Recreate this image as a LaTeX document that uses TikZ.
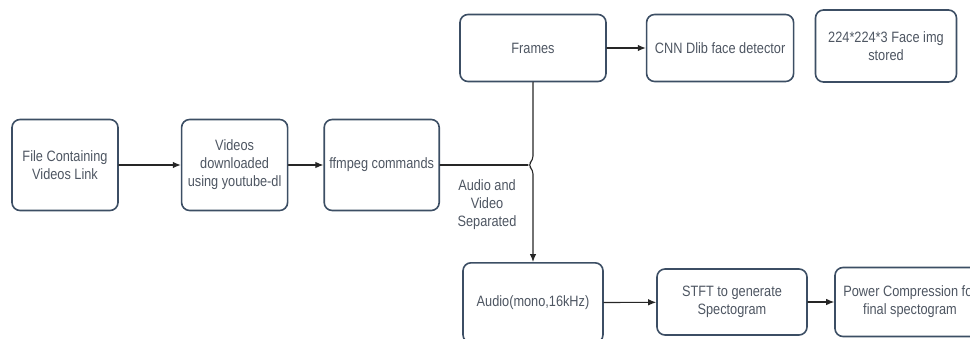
\documentclass[tikz,border=0pt]{standalone}
\usepackage{fontspec}
\newfontfamily\boxfont{Liberation Sans}[FakeStretch=0.85]
\usepackage{tikz}
\usetikzlibrary{arrows.meta,calc,positioning}
\definecolor{boxedge}{RGB}{60,78,100}
\definecolor{boxtext}{RGB}{78,86,98}
\tikzset{
  every picture/.append style={line cap=round,line join=round},
  flow box/.style={draw=boxedge,line width=1.6pt,rounded corners=8pt,align=center,text=boxtext,font=\boxfont\fontsize{15}{18}\selectfont,inner sep=2pt},
  flow arrow/.style={line width=1.1pt,draw=black!85,-{Latex[length=8pt,width=6.5pt]}},
  flow line/.style={line width=1.1pt,draw=black!85},
  flow note/.style={text=boxtext,font=\boxfont\fontsize{15}{18}\selectfont,align=center}
}

\begin{document}
\begin{tikzpicture}[x=1pt,y=1pt]
\useasboundingbox (0,0) rectangle (970,338);
% input chain
\node[flow box,minimum width=106pt,minimum height=91pt] (file) at (65,173) {File Containing\\ Videos Link};
\node[flow box,minimum width=106pt,minimum height=91pt,right=62pt of file] (videos) {Videos\\ downloaded\\ using youtube-dl};
\node[flow box,minimum width=115pt,minimum height=91pt,right=35pt of videos] (ffmpeg) {ffmpeg commands};
% video branch
\node[flow box,minimum width=146pt,minimum height=67pt] (frames) at (533,290) {Frames};
\node[flow box,minimum width=147pt,minimum height=67pt,right=39pt of frames] (cnn) {CNN Dlib face detector};
\node[flow box,minimum width=141pt,minimum height=72pt] (stored) at (886,292) {224*224*3 Face img\\ stored};
% audio branch
\node[flow box,minimum width=140pt,minimum height=80pt,anchor=north] (audio) at (533,76) {Audio(mono,16kHz)};
\node[flow box,minimum width=150pt,minimum height=66pt] (stft) at (732,36) {STFT to generate\\ Spectogram};
\node[flow box,minimum width=150pt,minimum height=69pt] (power) at (910,36) {Power Compression for\\ final spectogram};
\node[flow note] (sep) at (487,133) {Audio and\\ Video\\ Separated};
\coordinate (split) at (frames.south |- ffmpeg.east);
\draw[flow arrow] (file) -- (videos);
\draw[flow arrow] (videos) -- (ffmpeg);
\draw[flow line] (ffmpeg.east) -- ($(split)+(-5,0)$);
\draw[flow arrow,rounded corners=4pt] (frames.south) -- ($(split)+(0,5)$) -- ($(split)+(-5,0)$) -- ($(split)+(0,-5)$) -- (audio.north);
\draw[flow arrow] (frames) -- (cnn);
\draw[flow arrow] (audio) -- (stft);
\draw[flow arrow] (stft) -- (power);
\end{tikzpicture}
\end{document}
